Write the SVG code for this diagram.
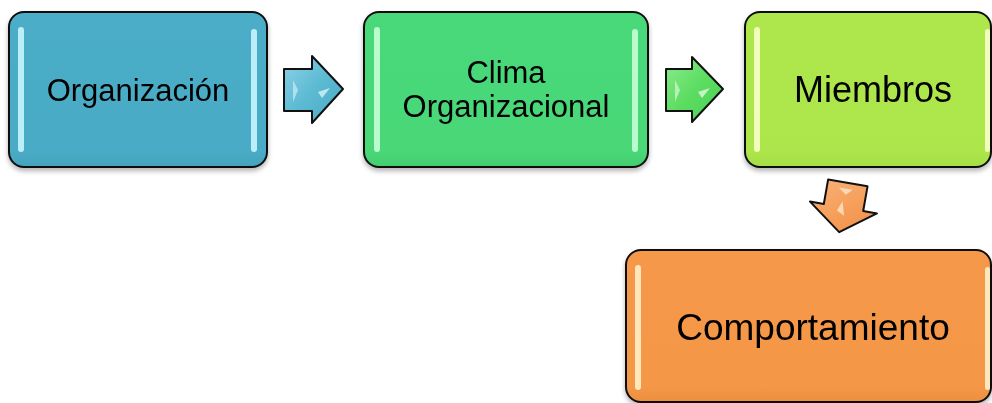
<svg xmlns="http://www.w3.org/2000/svg" width="992" height="403" viewBox="0 0 992 403">
<defs>
<style>
.box{stroke:#111;stroke-width:2}
.lbl{font-family:"Liberation Sans",Arial,sans-serif;fill:#000;text-anchor:middle}
.arr{stroke:#111;stroke-width:2;stroke-linejoin:round}
</style>
<filter id="sh" x="-10%" y="-10%" width="120%" height="130%">
<feGaussianBlur in="SourceAlpha" stdDeviation="2.5"/>
<feOffset dy="3" result="b"/>
<feComponentTransfer><feFuncA type="linear" slope="0.3"/></feComponentTransfer>
<feMerge><feMergeNode/><feMergeNode in="SourceGraphic"/></feMerge>
</filter>
<linearGradient id="gB" x1="0" y1="0" x2="0" y2="1"><stop offset="0" stop-color="#4BADC7"/><stop offset="0.9" stop-color="#4AABC5"/><stop offset="1" stop-color="#44A3BD"/></linearGradient>
<linearGradient id="gG" x1="0" y1="0" x2="0" y2="1"><stop offset="0" stop-color="#4AD97A"/><stop offset="0.9" stop-color="#49D778"/><stop offset="1" stop-color="#43CD70"/></linearGradient>
<linearGradient id="gL" x1="0" y1="0" x2="0" y2="1"><stop offset="0" stop-color="#AEE74C"/><stop offset="0.9" stop-color="#ADE64B"/><stop offset="1" stop-color="#A5DD45"/></linearGradient>
<linearGradient id="gO" x1="0" y1="0" x2="0" y2="1"><stop offset="0" stop-color="#F59848"/><stop offset="0.9" stop-color="#F49747"/><stop offset="1" stop-color="#EB8F40"/></linearGradient>
<linearGradient id="aB" x1="0" y1="0" x2="1" y2="1"><stop offset="0" stop-color="#8ED3E6"/><stop offset="0.5" stop-color="#5CBAD3"/><stop offset="1" stop-color="#4AAAC4"/></linearGradient>
<linearGradient id="aG" x1="0" y1="0" x2="1" y2="1"><stop offset="0" stop-color="#8EEB8E"/><stop offset="0.5" stop-color="#5CDD62"/><stop offset="1" stop-color="#4BCF55"/></linearGradient>
<linearGradient id="aO" x1="0" y1="0" x2="1" y2="1"><stop offset="0" stop-color="#F9B27A"/><stop offset="0.5" stop-color="#F6A05C"/><stop offset="1" stop-color="#EE8E45"/></linearGradient>
</defs>
<g id="connectors">
<g id="arrow1">
<polygon class="arr" fill="url(#aB)" points="284,69 312,69 312,56 343,89 312,123 312,111 284,111"/>
<path d="M293,80 L298,90 L293,102 Z" fill="#BEE9F4" opacity="0.8"/>
<path d="M318,92 L330,88 L322,98 Z" fill="#D8F3FA" opacity="0.8"/>
</g>
<g id="arrow2">
<polygon class="arr" fill="url(#aG)" points="666,69 692,69 692,57 723,89 692,122 692,111 666,111"/>
<path d="M675,80 L680,90 L675,102 Z" fill="#C4F6C4" opacity="0.8"/>
<path d="M698,92 L710,88 L702,98 Z" fill="#DDFADD" opacity="0.8"/>
</g>
<g id="arrow3" transform="translate(843.5,207.5) rotate(10)">
<polygon class="arr" fill="url(#aO)" points="-20,-25 20,-25 20,0 34,0 0,25 -34,0 -20,0"/>
<path d="M-8,-19 L6,-19 L0,-13 Z" fill="#FDE0C4" opacity="0.85"/>
<path d="M-6,4 L-2,-6 L2,8 Z" fill="#FDE0C4" opacity="0.85"/>
</g>
</g>
<g id="node-organizacion" filter="url(#sh)">
<rect class="box" x="9" y="12" width="258" height="155" rx="15" fill="url(#gB)"/>
<rect x="18" y="27" width="6" height="125" rx="3" fill="#C9F5FF" opacity="0.9"/>
<rect x="251" y="29" width="6" height="123" rx="3" fill="#C9F5FF" opacity="0.9"/>
<text class="lbl" x="138" y="101" font-size="31">Organización</text>
</g>
<g id="node-clima" filter="url(#sh)">
<rect class="box" x="364" y="12" width="284" height="155" rx="15" fill="url(#gG)"/>
<rect x="374" y="27" width="6" height="125" rx="3" fill="#C6FFD6" opacity="0.9"/>
<rect x="632" y="29" width="6" height="123" rx="3" fill="#C6FFD6" opacity="0.9"/>
<text class="lbl" x="506" y="83" font-size="31">Clima</text>
<text class="lbl" x="506" y="117" font-size="31">Organizacional</text>
</g>
<g id="node-miembros" filter="url(#sh)">
<rect class="box" x="745" y="12" width="246" height="155" rx="15" fill="url(#gL)"/>
<rect x="754" y="27" width="6" height="125" rx="3" fill="#F8FFC6" opacity="0.9"/>
<rect x="985" y="29" width="5" height="123" rx="2.5" fill="#F8FFC6" opacity="0.9"/>
<text class="lbl" x="873" y="102" font-size="36">Miembros</text>
</g>
<g id="node-comportamiento" filter="url(#sh)">
<rect class="box" x="626" y="250" width="365" height="152" rx="15" fill="url(#gO)"/>
<rect x="635" y="265" width="6" height="125" rx="3" fill="#FFF0C8" opacity="0.9"/>
<rect x="985" y="267" width="5" height="123" rx="2.5" fill="#FFF0C8" opacity="0.9"/>
<text class="lbl" x="813" y="340" font-size="37">Comportamiento</text>
</g>
</svg>
